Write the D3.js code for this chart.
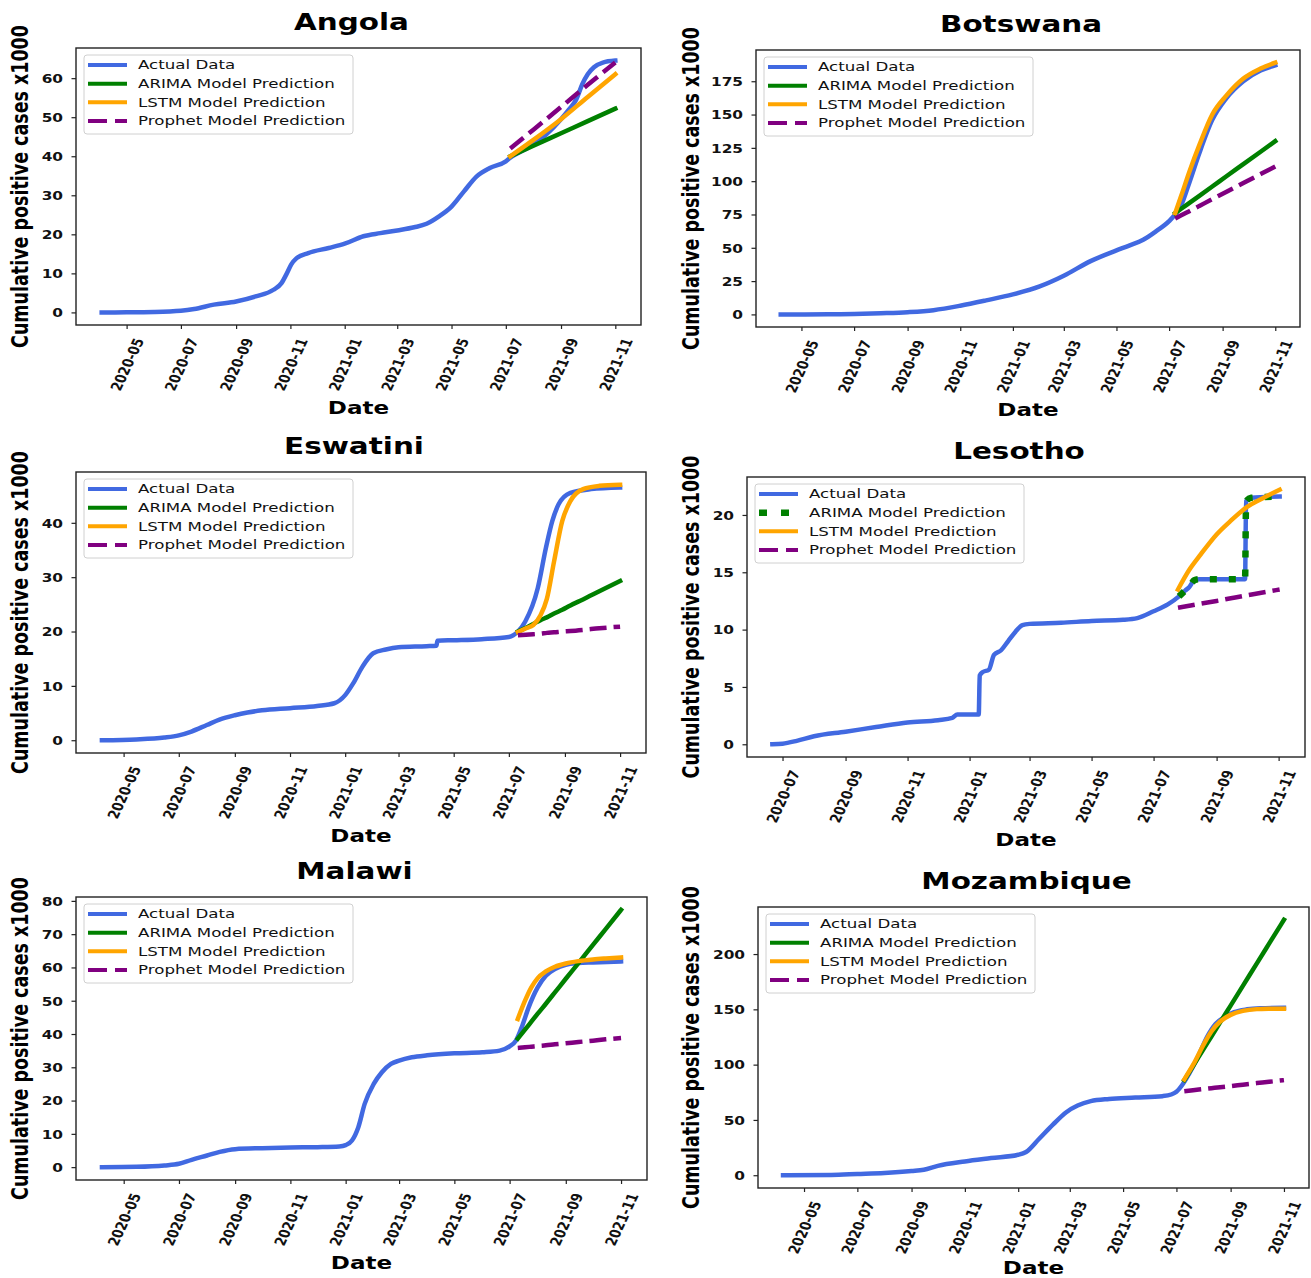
<!DOCTYPE html>
<html><head><meta charset="utf-8">
<script src="https://cdn.jsdelivr.net/npm/d3@7"></script>
<style>
body{margin:0;background:#fff}
svg{display:block}
text{font-family:"DejaVu Sans",sans-serif}
</style>
</head><body>
<svg id="chart" width="1311" height="1278"></svg>
<script>
// ---------------- DATA (values in thousands) ----------------
const angolaDates = ["2020-04-03","2020-05-01","2020-06-01","2020-07-01","2020-07-16","2020-08-07","2020-09-01","2020-09-23","2020-10-13","2020-10-22","2020-10-28","2020-11-02","2020-11-08","2020-11-21","2020-12-14","2021-01-01","2021-01-22","2021-02-10","2021-03-01","2021-03-20","2021-04-03","2021-04-17","2021-05-01","2021-05-15","2021-05-29","2021-06-13","2021-07-01","2021-07-06","2021-08-01","2021-08-15","2021-09-01","2021-09-10","2021-09-18","2021-09-25","2021-10-01","2021-10-08","2021-10-18","2021-11-01"];
const angolaActual = [0,0.02,0.1,0.4,0.85,2.0,2.8,4.1,5.8,7.5,10.0,12.3,13.9,15.2,16.5,17.6,19.5,20.3,21.0,21.8,22.7,24.6,27.1,31.0,34.8,37.0,38.7,39.6,43.0,45.5,49.5,52.0,54.5,58.5,61.0,62.8,64.0,64.5];
const angolaPredDates = ["2021-07-06","2021-08-01","2021-09-01","2021-10-01","2021-11-01"];
const angolaArima = [40.0,42.7,45.9,49.0,52.2];
const angolaLstm = [40.0,44.2,49.5,55.2,61.0];
const angolaProphet = [42.0,46.8,52.6,58.3,64.0];
const angolaYTicks = [0,10,20,30,40,50,60];

const botswanaDates = ["2020-04-07","2020-06-01","2020-07-01","2020-08-01","2020-09-01","2020-10-01","2020-11-01","2020-12-01","2021-01-01","2021-02-01","2021-03-01","2021-04-01","2021-05-01","2021-05-15","2021-06-01","2021-06-15","2021-07-01","2021-07-08","2021-07-15","2021-07-25","2021-08-05","2021-08-20","2021-09-05","2021-09-25","2021-10-15","2021-11-01"];
const botswanaActual = [0,0.05,0.3,0.9,1.7,3.2,6.5,10.5,15.0,21,29,40,48,51.5,56,62,70,75,82,100,121,146,162,175,183,187];
const botswanaPredDates = ["2021-07-08","2021-07-15","2021-07-25","2021-08-05","2021-08-20","2021-09-05","2021-09-25","2021-10-15","2021-11-01"];
const botswanaArima = [76,79.3,83.9,89.0,96.0,103.5,112.8,122.1,130];
const botswanaLstm = [76,89,108,127,150,164,177,184.5,189];
const botswanaProphet = [72,74.4,77.7,81.4,86.5,91.8,98.6,105.3,111];
const botswanaYTicks = [0,25,50,75,100,125,150,175];

const eswatiniDates = ["2020-04-07","2020-05-15","2020-06-15","2020-07-01","2020-07-15","2020-08-01","2020-08-15","2020-09-01","2020-09-15","2020-10-01","2020-11-01","2020-12-01","2020-12-20","2021-01-01","2021-01-10","2021-01-20","2021-02-01","2021-02-15","2021-03-01","2021-04-01","2021-04-12","2021-04-13","2021-05-01","2021-06-01","2021-07-01","2021-07-11","2021-07-19","2021-08-02","2021-08-11","2021-08-18","2021-08-25","2021-09-07","2021-09-30","2021-11-01"];
const eswatiniActual = [0,0.15,0.5,0.9,1.6,2.8,3.8,4.6,5.1,5.5,5.9,6.3,6.8,8.3,10.5,13.5,16.0,16.7,17.1,17.3,17.4,18.3,18.4,18.6,19.0,20.0,21.8,28,35.4,40.3,43.4,45.5,46.2,46.5];
const eswatiniPredDates = ["2021-07-11","2021-07-20","2021-07-28","2021-08-05","2021-08-12","2021-08-20","2021-08-29","2021-09-07","2021-09-21","2021-10-09","2021-11-01"];
const eswatiniArima = [20.0,20.7,21.4,22.1,22.6,23.3,24.0,24.8,25.9,27.4,29.3];
const eswatiniLstm = [19.9,20.6,21.2,23.0,26.0,32.9,40.3,44.0,46.2,46.8,47.0];
const eswatiniProphet = [19.3,19.4,19.5,19.6,19.75,19.85,20.0,20.1,20.3,20.6,20.9];
const eswatiniYTicks = [0,10,20,30,40];

const lesothoDates = ["2020-06-21","2020-07-01","2020-07-15","2020-08-01","2020-09-01","2020-10-01","2020-11-01","2020-12-01","2020-12-15","2020-12-20","2021-01-10","2021-01-11","2021-01-14","2021-01-20","2021-01-25","2021-02-01","2021-02-08","2021-02-15","2021-02-22","2021-03-01","2021-04-01","2021-05-01","2021-06-01","2021-06-15","2021-07-01","2021-07-15","2021-07-26","2021-08-01","2021-08-05","2021-08-10","2021-08-15","2021-09-29","2021-09-30","2021-10-05","2021-11-02"];
const lesothoActual = [0,0.05,0.3,0.7,1.1,1.5,1.9,2.1,2.3,2.6,2.6,6.0,6.3,6.5,7.8,8.2,9.0,9.8,10.4,10.5,10.6,10.75,10.85,11.0,11.6,12.2,12.9,13.4,13.7,14.3,14.4,14.4,21.2,21.5,21.6];
const lesothoArimaDates = ["2021-07-26","2021-08-01","2021-08-05","2021-08-10","2021-08-15","2021-09-29","2021-09-30","2021-10-05","2021-11-02"];
const lesothoArima = [12.9,13.4,13.7,14.3,14.4,14.4,21.2,21.5,21.6];
const lesothoPredDates = ["2021-07-25","2021-08-05","2021-08-15","2021-09-01","2021-09-15","2021-10-01","2021-10-15","2021-11-02"];
const lesothoLstm = [13.5,15.2,16.4,18.3,19.5,20.7,21.4,22.2];
const lesothoProphet = [11.9,12.08,12.24,12.5,12.73,12.99,13.21,13.5];
const lesothoYTicks = [0,5,10,15,20];

const malawiDates = ["2020-04-07","2020-05-15","2020-06-15","2020-07-01","2020-07-15","2020-08-01","2020-08-15","2020-09-01","2020-10-01","2020-11-01","2020-12-01","2020-12-25","2021-01-01","2021-01-08","2021-01-15","2021-01-22","2021-02-01","2021-02-10","2021-02-20","2021-03-01","2021-03-15","2021-04-01","2021-05-01","2021-06-01","2021-06-20","2021-07-01","2021-07-08","2021-07-15","2021-07-22","2021-08-01","2021-08-10","2021-08-20","2021-09-01","2021-09-15","2021-10-01","2021-11-01"];
const malawiActual = [0,0.1,0.5,1.0,2.2,3.5,4.6,5.4,5.7,5.9,6.0,6.2,6.6,8.0,12,19,25,28.5,31,32,33,33.6,34.2,34.5,35,36.3,38,42.5,48,54,57.5,59.5,60.8,61.3,61.5,61.8];
const malawiPredDates = ["2021-07-10","2021-07-18","2021-07-25","2021-08-01","2021-08-10","2021-08-20","2021-09-01","2021-09-15","2021-10-01","2021-10-15","2021-11-01"];
const malawiArima = [38.6,41.3,43.7,46.1,49.1,52.5,56.6,61.3,66.8,71.5,77.3];
const malawiLstm = [44.5,50,54,56.8,58.8,60.2,61.2,61.9,62.4,62.7,63.0];
const malawiProphet = [35.8,36.0,36.2,36.4,36.6,36.9,37.2,37.6,38.0,38.4,38.8];
const malawiYTicks = [0,10,20,30,40,50,60,70,80];

const mozambiqueDates = ["2020-04-07","2020-06-01","2020-07-01","2020-08-01","2020-09-01","2020-09-15","2020-10-01","2020-11-01","2020-12-01","2021-01-01","2021-01-10","2021-01-25","2021-02-10","2021-02-25","2021-03-10","2021-03-25","2021-04-15","2021-05-15","2021-06-15","2021-06-25","2021-07-01","2021-07-08","2021-07-15","2021-07-25","2021-08-05","2021-08-15","2021-08-25","2021-09-05","2021-09-20","2021-10-05","2021-11-01"];
const mozambiqueActual = [0,0.3,1.1,2.0,3.8,5,8.5,12.5,15.5,18.5,21,33,46,57,63,67,69,70.2,71.5,73,75.5,82,91,106,125,137,143,147.5,150,151,151.5];
const mozambiquePredDates = ["2021-07-10","2021-07-20","2021-08-01","2021-08-10","2021-08-20","2021-09-01","2021-09-15","2021-10-01","2021-10-15","2021-11-01"];
const mozambiqueArima = [86,98.7,114,125.4,138.2,153.4,171.2,191.6,209.4,231];
const mozambiqueLstm = [86.7,99.7,118,130,139,145,148.6,150.2,150.5,150.6];
const mozambiqueProphet = [76,76.9,77.9,78.7,79.6,80.6,81.9,83.3,84.5,86];
const mozambiqueYTicks = [0,50,100,150,200];

const monthTicks = ["2020-05","2020-07","2020-09","2020-11","2021-01","2021-03","2021-05","2021-07","2021-09","2021-11"];
const lesothoMonthTicks = ["2020-07","2020-09","2020-11","2021-01","2021-03","2021-05","2021-07","2021-09","2021-11"];
const legendLabels = ["Actual Data","ARIMA Model Prediction","LSTM Model Prediction","Prophet Model Prediction"];
const yLabel = "Cumulative positive cases x1000";
const xLabel = "Date";

// ---------------- LAYOUT / STYLE ----------------
const colors = {actual:"#4169e1", arima:"#008000", lstm:"#ffa500", prophet:"#800080"};
const SX = 1.28; // horizontal text stretch of the reference
const parseDay = d3.timeParse("%Y-%m-%d");
const parseMonth = d3.timeParse("%Y-%m");
const fmtMonth = d3.timeFormat("%Y-%m");

const panels = [
  {title:"Angola", f:{l:76,r:641,t:48,b:325}, ylx:28,
   dates:angolaDates, actual:angolaActual, arimaDates:angolaPredDates, arima:angolaArima,
   predDates:angolaPredDates, lstm:angolaLstm, prophet:angolaProphet, yTicks:angolaYTicks, xTicks:monthTicks, dotted:false},
  {title:"Botswana", f:{l:756,r:1300,t:50,b:327}, ylx:698.5,
   dates:botswanaDates, actual:botswanaActual, arimaDates:botswanaPredDates, arima:botswanaArima,
   predDates:botswanaPredDates, lstm:botswanaLstm, prophet:botswanaProphet, yTicks:botswanaYTicks, xTicks:monthTicks, dotted:false},
  {title:"Eswatini", f:{l:76,r:646,t:472,b:753}, ylx:28,
   dates:eswatiniDates, actual:eswatiniActual, arimaDates:eswatiniPredDates, arima:eswatiniArima,
   predDates:eswatiniPredDates, lstm:eswatiniLstm, prophet:eswatiniProphet, yTicks:eswatiniYTicks, xTicks:monthTicks, dotted:false},
  {title:"Lesotho", f:{l:747,r:1305,t:477,b:757}, ylx:698.5,
   dates:lesothoDates, actual:lesothoActual, arimaDates:lesothoArimaDates, arima:lesothoArima,
   predDates:lesothoPredDates, lstm:lesothoLstm, prophet:lesothoProphet, yTicks:lesothoYTicks, xTicks:lesothoMonthTicks, dotted:true},
  {title:"Malawi", f:{l:76,r:647,t:897,b:1180}, ylx:28,
   dates:malawiDates, actual:malawiActual, arimaDates:malawiPredDates, arima:malawiArima,
   predDates:malawiPredDates, lstm:malawiLstm, prophet:malawiProphet, yTicks:malawiYTicks, xTicks:monthTicks, dotted:false},
  {title:"Mozambique", f:{l:758,r:1309,t:907,b:1188}, ylx:698.5,
   dates:mozambiqueDates, actual:mozambiqueActual, arimaDates:mozambiquePredDates, arima:mozambiqueArima,
   predDates:mozambiquePredDates, lstm:mozambiqueLstm, prophet:mozambiqueProphet, yTicks:mozambiqueYTicks, xTicks:monthTicks, dotted:false}
];

const svg = d3.select("#chart");

function styleFor(key, dotted){
  if (key === "prophet") return {dash:"17 7", cap:"butt", w:4.5};
  if (key === "arima" && dotted) return {dash:"7 12", cap:"butt", w:6.5};
  return {dash:null, cap:"square", w:4.5};
}

panels.forEach(p => {
  const f = p.f;
  const g = svg.append("g");
  const series = [
    {key:"actual", pts:p.dates.map((d,i)=>[parseDay(d), p.actual[i]])},
    {key:"arima", pts:p.arimaDates.map((d,i)=>[parseDay(d), p.arima[i]])},
    {key:"lstm", pts:p.predDates.map((d,i)=>[parseDay(d), p.lstm[i]])},
    {key:"prophet", pts:p.predDates.map((d,i)=>[parseDay(d), p.prophet[i]])}
  ];
  const all = series.flatMap(s=>s.pts);
  const [d0,d1] = d3.extent(all, d=>d[0]);
  const dp = (d1 - d0) * 0.05;
  const [v0,v1] = d3.extent(all, d=>d[1]);
  const vp = (v1 - v0) * 0.05;
  const x = d3.scaleTime().domain([new Date(+d0 - dp), new Date(+d1 + dp)]).range([f.l, f.r]);
  const y = d3.scaleLinear().domain([v0 - vp, v1 + vp]).range([f.b, f.t]);

  // lines
  const line = d3.line().x(d=>x(d[0])).y(d=>y(d[1])).curve(d3.curveMonotoneX);
  series.forEach(s => {
    const st = styleFor(s.key, p.dotted);
    g.append("path").attr("d", line(s.pts)).attr("fill","none")
      .attr("stroke", colors[s.key]).attr("stroke-width", st.w)
      .attr("stroke-linecap", st.cap).attr("stroke-linejoin","round")
      .attr("stroke-dasharray", st.dash);
  });

  // frame
  g.append("rect").attr("x",f.l).attr("y",f.t).attr("width",f.r-f.l).attr("height",f.b-f.t)
    .attr("fill","none").attr("stroke","#222").attr("stroke-width",1.4);

  // y axis
  const ya = g.append("g").attr("transform",`translate(${f.l},0)`)
    .call(d3.axisLeft(y).tickValues(p.yTicks).tickSize(4.5).tickFormat(d3.format("d")));
  ya.select(".domain").remove();
  ya.selectAll(".tick line").attr("stroke","#222").attr("stroke-width",1.2);
  ya.selectAll(".tick text").attr("x",null).attr("dy",null)
    .attr("transform",`translate(-13,0) scale(${SX},1)`)
    .attr("text-anchor","end").attr("dominant-baseline","central")
    .attr("font-size",12).attr("font-weight","bold").attr("fill","#111")
    .attr("font-family","DejaVu Sans");

  // x axis
  const xa = g.append("g").attr("transform",`translate(0,${f.b})`)
    .call(d3.axisBottom(x).tickValues(p.xTicks.map(parseMonth)).tickSize(4).tickFormat(fmtMonth));
  xa.select(".domain").remove();
  xa.selectAll(".tick line").attr("stroke","#222").attr("stroke-width",1.2);
  xa.selectAll(".tick text").attr("y",null).attr("dy",null)
    .attr("transform",`translate(0,39.5) scale(${SX},1) rotate(-70)`)
    .attr("text-anchor","middle").attr("dominant-baseline","central")
    .attr("font-size",12).attr("font-weight","bold").attr("fill","#111")
    .attr("font-family","DejaVu Sans");

  // title
  const cx = (f.l + f.r)/2;
  g.append("text").text(p.title)
    .attr("transform",`translate(${cx-7},${f.t-18.5}) scale(${SX},1)`)
    .attr("text-anchor","middle").attr("font-size",23).attr("font-weight","bold").attr("fill","#000");
  // x label
  g.append("text").text(xLabel)
    .attr("transform",`translate(${cx},${Math.min(f.b+89, 1274)}) scale(${SX},1)`)
    .attr("text-anchor","middle").attr("font-size",18).attr("font-weight","bold").attr("fill","#000");
  // y label
  g.append("text").text(yLabel)
    .attr("transform",`translate(${p.ylx},${(f.t+f.b)/2}) scale(${SX},1) rotate(-90)`)
    .attr("text-anchor","middle").attr("font-size",17.5).attr("font-weight","bold").attr("fill","#000");

  // legend
  const lx = f.l + 8, ly = f.t + 7;
  const lg = g.append("g");
  lg.append("rect").attr("x",lx).attr("y",ly).attr("width",269).attr("height",79).attr("rx",3)
    .attr("fill","#fff").attr("fill-opacity",0.85).attr("stroke","#d0d0d0").attr("stroke-width",1);
  const keys = ["actual","arima","lstm","prophet"];
  keys.forEach((k,i) => {
    const ry = ly + 10 + i*18.65;
    let st = styleFor(k, p.dotted);
    let dash = st.dash;
    if (k === "prophet") dash = "19 8";
    if (k === "arima" && p.dotted) dash = "8 14";
    lg.append("line").attr("x1",lx+4+(st.cap==="square"?2:0)).attr("x2",lx+43-(st.cap==="square"?2:0))
      .attr("y1",ry).attr("y2",ry)
      .attr("stroke",colors[k]).attr("stroke-width",4).attr("stroke-linecap",st.cap)
      .attr("stroke-dasharray",dash)
      .attr("stroke-width", (k === "arima" && p.dotted) ? 6.5 : 4);
    lg.append("text").text(legendLabels[i])
      .attr("transform",`translate(${lx+54},${ry}) scale(${SX},1)`)
      .attr("dominant-baseline","central").attr("font-size",13).attr("fill","#111");
  });
});
</script>
</body></html>
